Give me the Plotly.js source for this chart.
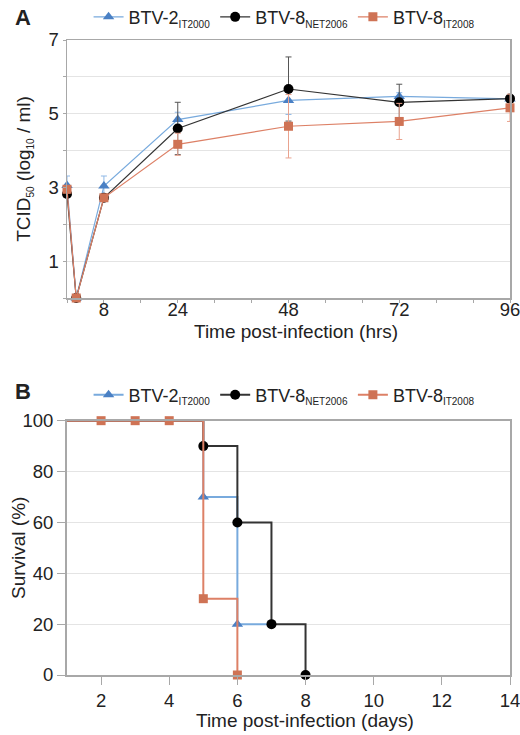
<!DOCTYPE html>
<html>
<head>
<meta charset="utf-8">
<script src="https://cdn.plot.ly/plotly-3.0.1.min.js"></script>
<style>html,body{margin:0;padding:0;background:#fff;}#chart{width:520px;height:735px;}</style>
</head>
<body>
<div id="chart"></div>
<script>
// Panel A: virus titre over time
const hoursA = [0, 2, 8, 24, 48, 72, 96];
const btv2Titer = [3.05, 0, 3.04, 4.84, 5.36, 5.47, 5.40];
const btv2Err = [0.26, 0, 0.27, 0.2, 0.38, 0.1, 0.05];
const net06Titer = [2.82, 0, 2.72, 4.60, 5.67, 5.31, 5.41];
const net06Err = [0, 0, 0, 0.71, 0.87, 0.49, 0.08];
const it08Titer = [2.95, 0, 2.72, 4.17, 4.66, 4.79, 5.16];
const it08Err = [0.1, 0, 0, 0.3, 0.86, 0.49, 0.37];
const xTicksA = [0, 8, 16, 24, 32, 40, 48, 56, 64, 72, 80, 88, 96];
const xLabelsA = ['', '8', '', '24', '', '', '48', '', '', '72', '', '', '96'];
const yTicksA = [0, 1, 2, 3, 4, 5, 6, 7];
const yLabelsA = ['', '1', '', '3', '', '5', '', '7'];

// Panel B: survival (first point = start of the curve, drawn without a marker)
const btv2Days = [1, 5, 6, 7];
const btv2Surv = [100, 70, 20, 20];
const btv2Shown = [1, 2];
const net06Days = [1, 5, 6, 7, 8];
const net06Surv = [100, 90, 60, 20, 0];
const net06Shown = [1, 2, 3, 4];
const it08Days = [1, 2, 3, 4, 5, 6];
const it08Surv = [100, 100, 100, 100, 30, 0];
const it08Shown = [1, 2, 3, 4, 5];
const xTicksB = [2, 4, 6, 8, 10, 12, 14];
const yTicksB = [0, 20, 40, 60, 80, 100];

const sub = (t) => '<sub><span style="font-size:10px">' + t + '</span></sub>';
const names = ['BTV-2' + sub('IT2000'), 'BTV-8' + sub('NET2006'), 'BTV-8' + sub('IT2008')];

const blueLine = '#78aadd', blueMk = '#4a80c4';
const blackLine = '#333333', blackMk = '#000000';
const orgLine = '#dd8066', orgMk = '#cf7355';

const hidden = {marker: {opacity: 0}};
const shown = {marker: {opacity: 1}};

const traces = [
  {x: hoursA, y: btv2Titer, name: names[0], xaxis: 'x', yaxis: 'y', mode: 'lines+markers', legend: 'legend', cliponaxis: false,
   line: {color: blueLine, width: 1.2}, marker: {symbol: 'triangle-up', size: 10, color: blueMk},
   error_y: {type: 'data', array: btv2Err, color: '#8fb8e6', thickness: 1, width: 3}},
  {x: hoursA, y: net06Titer, name: names[1], xaxis: 'x', yaxis: 'y', mode: 'lines+markers', legend: 'legend', cliponaxis: false,
   line: {color: blackLine, width: 1.2}, marker: {symbol: 'circle', size: 10, color: blackMk},
   error_y: {type: 'data', array: net06Err, color: '#555555', thickness: 1, width: 3}},
  {x: hoursA, y: it08Titer, name: names[2], xaxis: 'x', yaxis: 'y', mode: 'lines+markers', legend: 'legend', cliponaxis: false,
   line: {color: orgLine, width: 1.2}, marker: {symbol: 'square', size: 9, color: orgMk},
   error_y: {type: 'data', array: it08Err, color: '#e9a38f', thickness: 1, width: 3}},
  {x: btv2Days, y: btv2Surv, name: names[0], xaxis: 'x2', yaxis: 'y2', mode: 'lines+markers', legend: 'legend2', cliponaxis: false,
   line: {color: blueLine, width: 2, shape: 'hv'}, marker: {symbol: 'triangle-up', size: 10, color: blueMk},
   selectedpoints: btv2Shown, selected: shown, unselected: hidden},
  {x: net06Days, y: net06Surv, name: names[1], xaxis: 'x2', yaxis: 'y2', mode: 'lines+markers', legend: 'legend2', cliponaxis: false,
   line: {color: blackLine, width: 2, shape: 'hv'}, marker: {symbol: 'circle', size: 10, color: blackMk},
   selectedpoints: net06Shown, selected: shown, unselected: hidden},
  {x: it08Days, y: it08Surv, name: names[2], xaxis: 'x2', yaxis: 'y2', mode: 'lines+markers', legend: 'legend2', cliponaxis: false,
   line: {color: orgLine, width: 2, shape: 'hv'}, marker: {symbol: 'square', size: 9, color: orgMk},
   selectedpoints: it08Shown, selected: shown, unselected: hidden}
];

const font = {family: 'Liberation Sans, Arial, sans-serif', size: 18, color: '#222'};
const axisCommon = {showline: true, linecolor: '#a8a8a8', linewidth: 1.5, mirror: true,
  gridcolor: '#e4e4e4', gridwidth: 1, zeroline: false, ticks: 'outside', ticklen: 3,
  tickcolor: '#a8a8a8', tickfont: {size: 18.5, color: '#222'}, ticklabeloverflow: 'allow'};

const legendCommon = {orientation: 'h', xanchor: 'center', yanchor: 'middle', font: {size: 18, color: '#222'},
  bgcolor: 'rgba(0,0,0,0)', itemwidth: 30, tracegroupgap: 0};

const layout = {
  width: 520, height: 735,
  margin: {l: 67, r: 10, t: 40, b: 60, autoexpand: false},
  paper_bgcolor: '#fff', plot_bgcolor: '#fff',
  font: font,
  showlegend: true,
  legend: Object.assign({x: 0.49, y: 1.036}, legendCommon),
  legend2: Object.assign({x: 0.49, y: 0.441}, legendCommon),
  xaxis: Object.assign({}, axisCommon, {domain: [0, 1], anchor: 'y', range: [0, 96],
    tickvals: xTicksA, ticktext: xLabelsA, showgrid: false, ticklabelstandoff: -9}),
  yaxis: Object.assign({}, axisCommon, {domain: [0.5937, 1], anchor: 'x', range: [0, 7],
    tickvals: yTicksA, ticktext: yLabelsA,
    title: {text: 'TCID' + sub('50') + ' (log' + sub('10') + ' / ml)', font: {size: 19}, standoff: 13}}),
  xaxis2: Object.assign({}, axisCommon, {domain: [0, 1], anchor: 'y2', range: [1, 14],
    tickvals: xTicksB, showgrid: false, linewidth: 2, ticklen: 8}),
  yaxis2: Object.assign({}, axisCommon, {domain: [0, 0.4005], anchor: 'x2', range: [0, 100],
    tickvals: yTicksB, linewidth: 2, ticklen: 8}),
  annotations: [
    {text: '<b>A</b>', xref: 'paper', yref: 'paper', x: -0.10, y: 1.036, xanchor: 'center', yanchor: 'middle',
     showarrow: false, font: {size: 22, color: '#222'}},
    {text: '<b>B</b>', xref: 'paper', yref: 'paper', x: -0.10, y: 0.447, xanchor: 'center', yanchor: 'middle',
     showarrow: false, font: {size: 22, color: '#222'}},
    {text: 'Time post-infection (hrs)', xref: 'paper', yref: 'paper', x: 0.517, y: 0.5415, xanchor: 'center', yanchor: 'middle',
     showarrow: false, font: {size: 19, color: '#222'}},
    {text: 'Time post-infection (days)', xref: 'paper', yref: 'paper', x: 0.537, y: -0.0724, xanchor: 'center', yanchor: 'middle',
     showarrow: false, font: {size: 19, color: '#222'}},
    {text: 'Survival (%)', xref: 'paper', yref: 'paper', x: -0.1106, y: 0.2, xanchor: 'center', yanchor: 'middle',
     textangle: -90, showarrow: false, font: {size: 19, color: '#222'}}
  ]
};

Plotly.newPlot('chart', traces, layout, {displayModeBar: false, staticPlot: true});
</script>
</body>
</html>
